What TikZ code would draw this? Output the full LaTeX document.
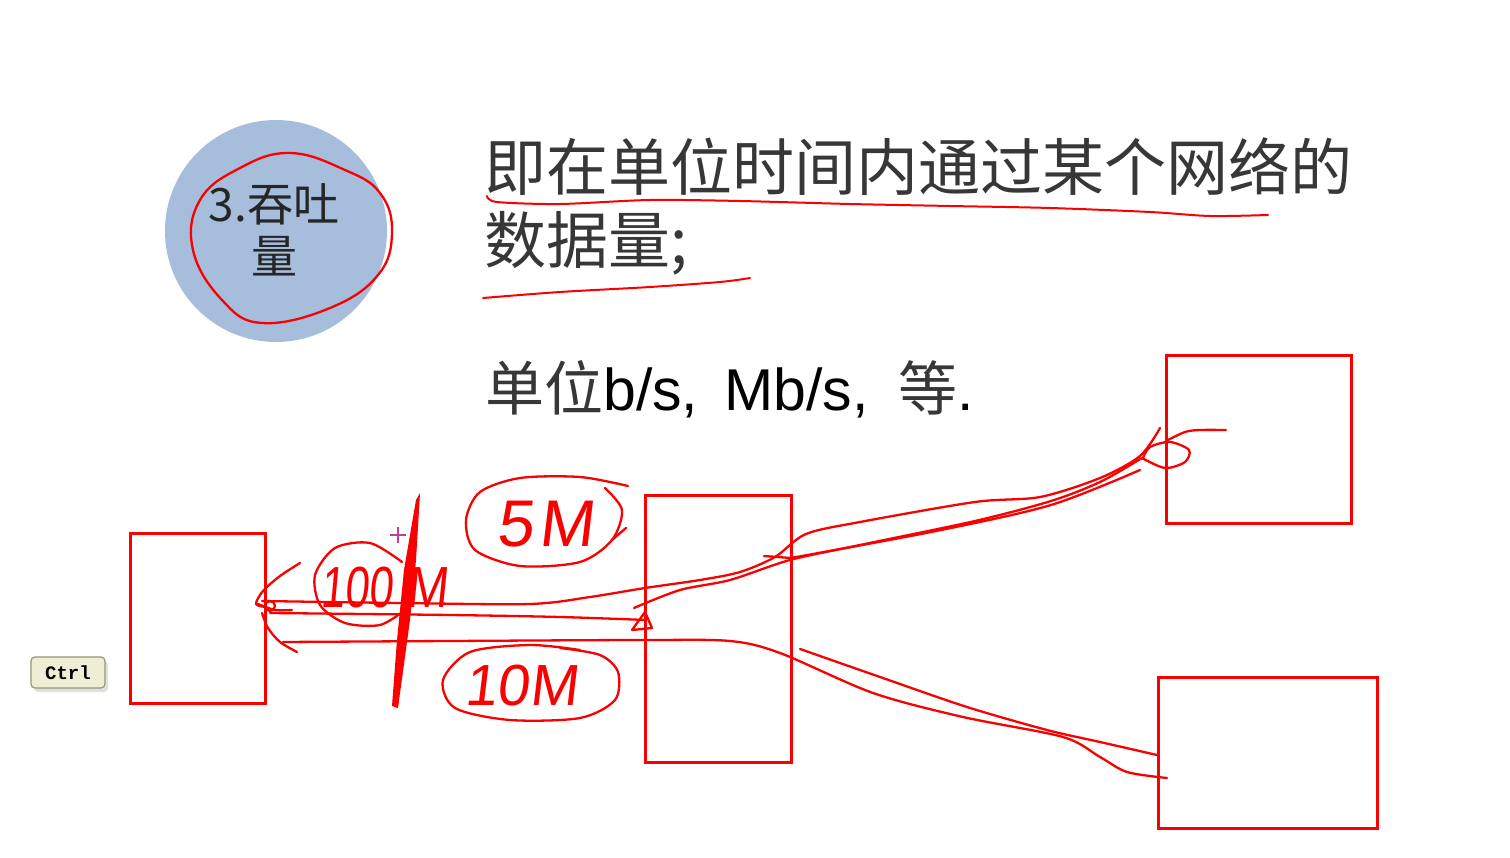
\documentclass[tikz,border=0pt]{standalone}
\usepackage{fontspec}
\usepackage{graphicx}
\setmainfont{Liberation Sans}
\newfontfamily\cjk{Noto Sans CJK SC}
\newfontfamily\monofnt{Liberation Mono}
\newfontfamily\handfont{Liberation Sans}[FakeSlant=0.12]
\definecolor{bubble}{RGB}{166,190,220}
\definecolor{ink}{RGB}{250,0,0}
\definecolor{txtgray}{RGB}{55,55,55}
\definecolor{ctrlfill}{RGB}{238,238,212}
\definecolor{ctrlborder}{RGB}{150,150,120}
\definecolor{cursor}{RGB}{200,60,160}
\tikzset{
  hand/.style={draw=ink, line width=2.3pt, line cap=round, line join=round},
  thinhand/.style={draw=ink, line width=2pt, line cap=round, line join=round},
  netbox/.style={draw=ink, line width=3pt, inner sep=0pt, fill=none},
  handtext/.style={text=ink, inner sep=0pt, font=\handfont\fontsize{#1}{#1}\selectfont},
}
\begin{document}
\begin{tikzpicture}[x=1pt,y=-1pt]
\useasboundingbox[fill=white] (0,0) rectangle (1510,858);

% title bubble
\node[circle, fill=bubble, minimum size=222pt, inner sep=0pt] (bub) at (276,231) {};
\node[anchor=base, inner sep=0pt, text=black!85, font=\cjk\fontsize{46}{50}\selectfont] (t1) at (274,222) {3.吞吐};
\node[anchor=base, inner sep=0pt, text=black!85, font=\cjk\fontsize{46}{50}\selectfont] (t2) at (274,274) {量};
\draw[hand] plot[smooth cycle, tension=0.7] coordinates {(290,153) (345,170) (380,193) (392,232) (378,275) (330,308) (262,323) (222,300) (193,250) (200,200) (240,168)};

% main text
\node[anchor=base west, inner sep=0pt, text=txtgray, font=\cjk\fontsize{62}{70}\selectfont] (l1) at (484.5,191) {即在单位时间内通过某个网络的};
\node[anchor=base west, inner sep=0pt, text=txtgray, font=\cjk\fontsize{62}{70}\selectfont] (l2) at (484.5,264) {数据量;};
\node[anchor=base west, inner sep=0pt, text=black, font=\fontsize{59}{66}\selectfont] (l3) at (485,410) {{\cjk\color{txtgray}单位}b/s,\hspace{26pt}Mb/s,\hspace{30pt}{\cjk\color{txtgray}等}.};

% underlines
\draw[thinhand] plot[smooth] coordinates {(487,196) (497,202) (560,204) (650,200) (740,201) (850,204) (950,206) (1050,208) (1150,212) (1210,216) (1268,215)};
\draw[thinhand] plot[smooth] coordinates {(483,298) (560,292) (650,287) (720,282) (750,278)};

% boxes
\node[netbox, minimum width=135pt, minimum height=170pt] (L) at (197.5,618) {};
\node[netbox, minimum width=146pt, minimum height=267pt] (M) at (718,628.5) {};
\node[netbox, minimum width=185pt, minimum height=167pt] (TR) at (1258.5,439.5) {};
\node[netbox, minimum width=219pt, minimum height=151pt] (BR) at (1267.5,752.5) {};

% Ctrl key
\fill[black!12, rounded corners=4pt] (34,661) rectangle (108,692);
\node[draw=ctrlborder, fill=ctrlfill, rounded corners=4pt, line width=1.2pt, minimum width=74pt, minimum height=31pt, inner sep=0pt, font=\monofnt\bfseries\fontsize{19}{20}\selectfont] (ctrl) at (68,672.5) {Ctrl};

% links: left box to middle box and beyond
\draw[hand] plot[smooth] coordinates {(262,601) (400,603) (530,604) (590,597) (645,588) (700,580) (740,572) (775,557) (806,534) (860,522) (975,502) (1040,497) (1100,478) (1140,456) (1160,428)};
\draw[hand] plot[smooth] coordinates {(270,613) (450,615) (560,617) (646,620)};
\draw[hand] (632,630) -- (645,612) -- (652,628) -- cycle;
\draw[hand] plot[smooth] coordinates {(634,608) (680,590) (730,580) (790,560) (860,545) (975,521) (1051,501) (1100,482) (1142,458)};
\draw[hand] (764,556) -- (791,558);
\draw[hand] plot[smooth] coordinates {(791,558) (936,531) (1051,505) (1140,470)};
\draw[hand] plot[smooth] coordinates {(283,642) (450,641) (645,640) (730,641) (780,653) (873,693) (963,717) (1063,737) (1100,757) (1127,772) (1167,778)};
\draw[hand] plot[smooth] coordinates {(800,649) (880,677) (967,707) (1047,730) (1100,742) (1157,755)};

% arrow marks at left box
\draw[hand] plot[smooth] coordinates {(300,563) (280,576) (263,591) (256,604) (266,607)};
\draw[hand] plot[smooth] coordinates {(258,604) (275,610) (292,610)};
\draw[hand] plot[smooth] coordinates {(262,613) (268,628) (280,642) (297,652)};
\draw[hand] (270,606) circle[radius=5pt];

% loop at top-right box
\draw[hand] plot[smooth] coordinates {(1142,458) (1165,468) (1185,462) (1189,450) (1170,442) (1150,447) (1143,458)};
\draw[hand] plot[smooth] coordinates {(1166,441) (1185,432) (1200,430) (1226,430)};

% bandwidth labels
\draw[hand] plot[smooth] coordinates {(628,486) (580,477) (520,478) (480,492) (466,520) (475,550) (520,566) (580,562) (612,540) (622,510) (605,488)};
\draw[hand] (612,540) -- (626,528);
\node[handtext=66] (m5) at (545,524) {5\hspace{6pt}M};

\draw[hand] plot[smooth] coordinates {(402,562) (370,543) (335,548) (315,575) (320,605) (345,623) (380,625) (405,610)};
\node[handtext=58] (m100) at (384,588) {\scalebox{0.75}[1]{100}\hspace{14pt}\scalebox{0.85}[1]{M}};

\draw[hand] plot[smooth] coordinates {(580,650) (530,645) (470,652) (443,680) (455,708) (510,720) (580,718) (615,700) (618,672) (600,655) (560,648)};
\node[handtext=58] (m10) at (521,686) {10M};

% cut mark
\fill[ink] (420,493) -- (416,560) -- (410,620) -- (398,708) -- (392,706) -- (397,640) -- (404,570) -- (416,500) -- cycle;
\draw[cursor, line width=1.5pt] (398,527) -- (398,543) (390,535) -- (406,535);
\end{tikzpicture}
\end{document}
